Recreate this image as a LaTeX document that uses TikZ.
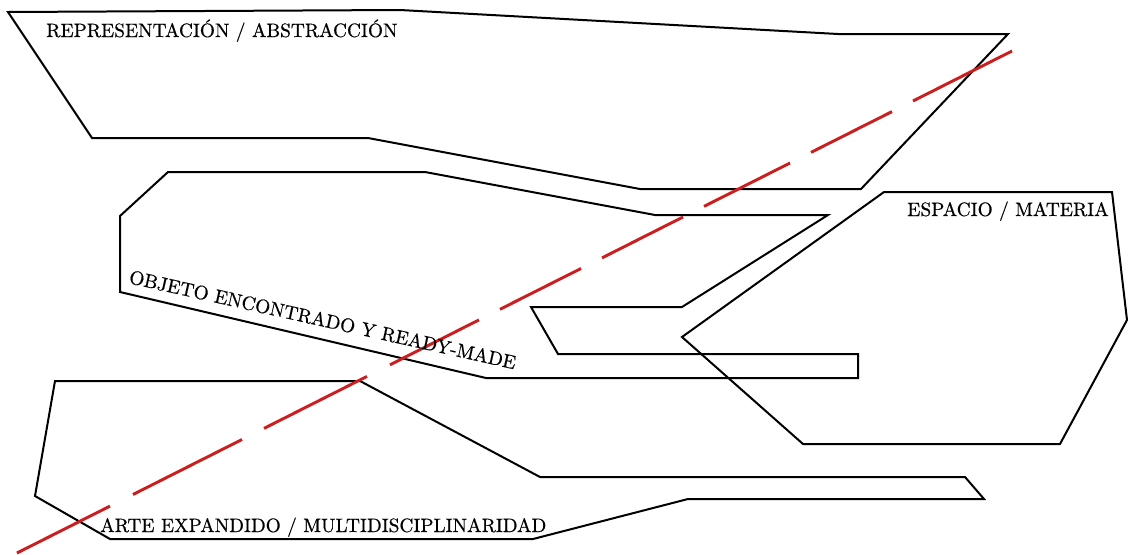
\documentclass[tikz,border=0pt]{standalone}
\usepackage{fontspec}
\newfontfamily\lblfont{lmroman10-regular.otf}[FakeBold=0.5]
\definecolor{redline}{RGB}{204,30,30}
\begin{document}
\begin{tikzpicture}[x=0.75pt,y=-0.75pt,
  outline/.style={draw=black, line width=1.5pt, line join=miter},
  reddash/.style={draw=redline, line width=2.2pt, line cap=butt},
  lbl/.style={font=\lblfont\fontsize{14.5}{17}\selectfont, inner sep=0pt, anchor=base west}]
\useasboundingbox (0,0) rectangle (1128,554);
% shapes
\draw[outline] (8,12) -- (400,10) -- (838,34) -- (1008,34) -- (861,189) -- (640,189) -- (368,138) -- (92,138) -- cycle;
\draw[outline] (120,216) -- (168,172) -- (425,172) -- (655,215) -- (828,215) -- (682,307) -- (531,307) -- (558,354) -- (858,354) -- (858,378) -- (486,378) -- (120,292) -- cycle;
\draw[outline] (884,192) -- (1112,192) -- (1127,320) -- (1060,444) -- (803,444) -- (682,337) -- cycle;
\draw[outline] (55,381) -- (360,381) -- (540,477) -- (965,477) -- (984,499) -- (688,499) -- (533,539) -- (110,539) -- (35,496) -- cycle;
% red dashed line
\draw[reddash] (17,553) -- (110,506.1);
\draw[reddash] (133,494.5) -- (242,439.5);
\draw[reddash] (264,428.4) -- (367,376.4);
\draw[reddash] (390,364.8) -- (479,319.9);
\draw[reddash] (500,309.3) -- (581,268.5);
\draw[reddash] (602,257.9) -- (683,217);
\draw[reddash] (704,206.4) -- (790,163);
\draw[reddash] (811,152.4) -- (892,111.6);
\draw[reddash] (913,101) -- (1012,51);
% labels
\node[lbl] (rep) at (46,37) {REPRESENTACIÓN / ABSTRACCIÓN};
\node[lbl] (esp) at (907,216) {ESPACIO / MATERIA};
\node[lbl] (arte) at (100,532) {ARTE EXPANDIDO / MULTIDISCIPLINARIDAD};
\node[lbl, rotate=-12.6] (obj) at (128,283) {OBJETO ENCONTRADO Y READY-MADE};
\end{tikzpicture}
\end{document}
